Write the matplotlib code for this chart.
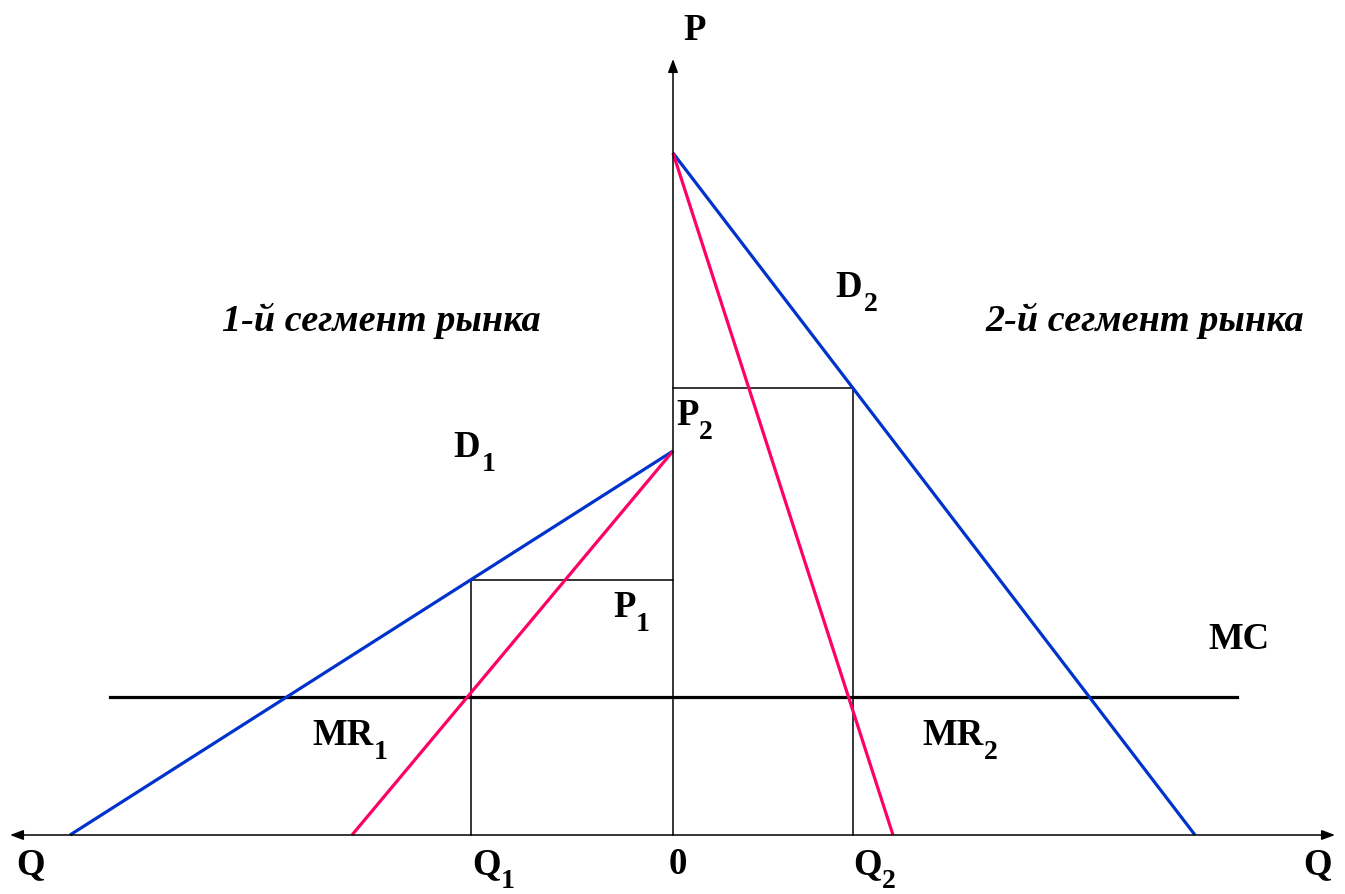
import numpy as np
import matplotlib.pyplot as plt

# market segment 1 (drawn to the left of the P axis)
d1_p0 = 38.4     # demand intercept on P axis
d1_q0 = 60.3     # demand intercept on Q axis
mr1_q0 = 32.1    # MR intercept on Q axis
q1 = 20.2

# market segment 2 (right of the P axis)
d2_p0 = 68.2
d2_q0 = 52.2
mr2_q0 = 22.0
q2 = 18.0

mc = 13.8
mc_range = [-56.3, 56.4]

p1 = d1_p0 * (1 - q1 / d1_q0)
p2 = d2_p0 * (1 - q2 / d2_q0)

blue = '#0033cc'
pink = '#ff0066'

plt.rcParams['font.family'] = ['Liberation Serif', 'DejaVu Serif']

fig = plt.figure(figsize=(13.45, 8.94), dpi=100)
ax = fig.add_axes([0, 0, 1, 1])
ax.set_xlim(-67.3, 67.2)
ax.set_ylim(-5.9, 83.5)
ax.axis('off')

# axes with arrows
arr = dict(arrowstyle='-|>,head_length=0.8,head_width=0.3', color='black', lw=1.1,
           shrinkA=0, shrinkB=0)
ax.annotate('', xy=(-66.3, 0), xytext=(0, 0), arrowprops=arr)
ax.annotate('', xy=(66.2, 0), xytext=(0, 0), arrowprops=arr)
ax.annotate('', xy=(0, 77.6), xytext=(0, 0), arrowprops=arr)

# price / quantity boxes
ax.plot([-q1, -q1, 0], [0, p1, p1], color='black', lw=1.1)
ax.plot([q2, q2, 0], [0, p2, p2], color='black', lw=1.1)

# MC
ax.plot(mc_range, [mc, mc], color='black', lw=2.3)

# demand and MR curves
ax.plot([0, -d1_q0], [d1_p0, 0], color=blue, lw=2.3, solid_capstyle='butt')
ax.plot([0, -mr1_q0], [d1_p0, 0], color=pink, lw=2.3, solid_capstyle='butt')
ax.plot([0, d2_q0], [d2_p0, 0], color=blue, lw=2.3, solid_capstyle='butt')
ax.plot([0, mr2_q0], [d2_p0, 0], color=pink, lw=2.3, solid_capstyle='butt')


def label(px, py, main, s=None, gap=0.5):
    # px, py: left edge and baseline of the label in image pixels
    t = ax.text((px - 673) / 10, (835 - py) / 10, main, fontsize=26.5,
                fontweight='bold', ha='left', va='baseline')
    if s:
        ax.annotate(s, xy=(1, 0), xycoords=t, xytext=(gap, -4.3),
                    textcoords='offset points', fontsize=20, fontweight='bold',
                    ha='left', va='baseline')


label(683, 40, 'P')
label(16, 874, 'Q')
label(1303, 874, 'Q')
label(669, 874, '0')
label(472, 874, 'Q', '1')
label(853, 874, 'Q', '2')
label(676, 425, 'P', '2')
label(613, 617, 'P', '1')
label(453, 457, 'D', '1', gap=1.5)
label(835, 297, 'D', '2', gap=1.5)
label(1208, 649, 'MC')
label(312, 745, 'MR', '1')
label(922, 745, 'MR', '2')

seg = dict(fontsize=27.5, fontweight='bold', style='italic', ha='center', va='baseline')
ax.text((381 - 673) / 10, (835 - 331) / 10, '1-й сегмент рынка', **seg)
ax.text((1145 - 673) / 10, (835 - 331) / 10, '2-й сегмент рынка', **seg)

fig.savefig('out.png', dpi=100)
